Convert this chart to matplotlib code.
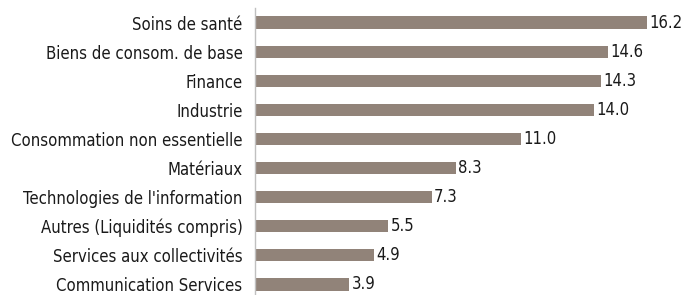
import matplotlib
matplotlib.use('Agg')
import matplotlib.pyplot as plt
from matplotlib import font_manager

# Data (top to bottom as shown)
categories = ['Soins de santé', 'Biens de consom. de base', 'Finance', 'Industrie',
              'Consommation non essentielle', 'Matériaux', "Technologies de l'information",
              'Autres (Liquidités compris)', 'Services aux collectivités', 'Communication Services']
values = [16.2, 14.6, 14.3, 14.0, 11.0, 8.3, 7.3, 5.5, 4.9, 3.9]

names = {f.name for f in font_manager.fontManager.ttflist}
if 'Liberation Sans Narrow' in names:
    plt.rcParams['font.family'] = ['Liberation Sans Narrow', 'DejaVu Sans']
    fs = 13.5
else:
    plt.rcParams['font.family'] = ['DejaVu Sans']
    plt.rcParams['font.stretch'] = 'condensed'
    fs = 12

fig = plt.figure(figsize=(6.84, 2.95), dpi=100)
ax = fig.add_axes([0.3728, -0.0134, 0.619, 0.9864])

y = list(range(len(categories)))
ax.barh(y, values, height=0.42, color='#918379')
ax.set_ylim(len(categories) - 0.5, -0.5)
ax.set_xlim(0, 17.5)

ax.set_yticks(y)
ax.set_yticklabels(categories, fontsize=fs, color='#1a1a1a')
ax.tick_params(axis='y', length=0, pad=9)
ax.set_xticks([])

for sp in ['top', 'right', 'bottom']:
    ax.spines[sp].set_visible(False)
ax.spines['left'].set_color('#c0c0c0')
ax.spines['left'].set_linewidth(1)

for yi, v in zip(y, values):
    ax.text(v + 0.1, yi, f'{v:.1f}', va='center', ha='left', fontsize=fs, color='#1a1a1a')

fig.savefig('out.png', dpi=100)
